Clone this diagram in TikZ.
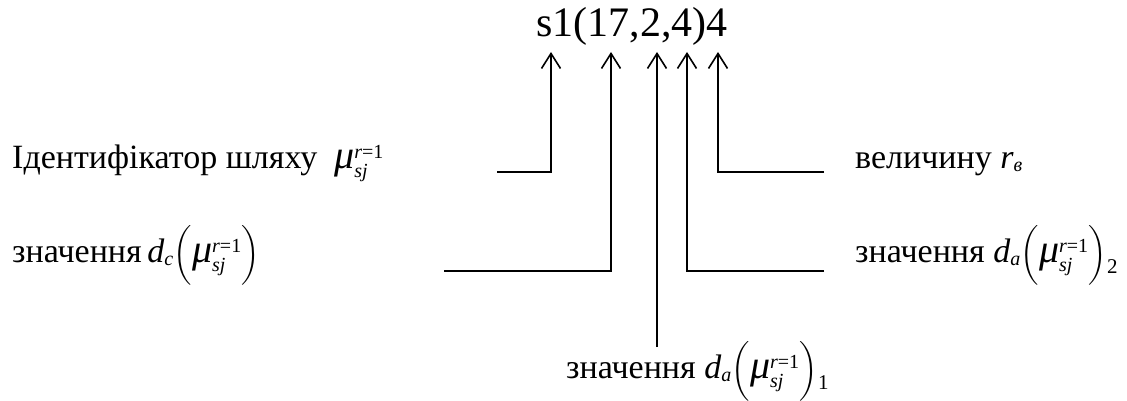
\documentclass[tikz,border=0pt]{standalone}
\usepackage{amsmath}
\usepackage{fontspec}
\setmainfont{Liberation Serif}
\usetikzlibrary{arrows.meta}
\newcommand{\scr}[1]{\text{\fontsize{20}{20}\selectfont #1}}
\newcommand{\bigmu}{\text{\fontsize{40}{40}\selectfont\itshape μ}}
\newcommand{\muf}{\bigmu^{\scr{\itshape r\upshape =1}}_{\scr{\itshape sj}}}
\newcommand{\pmu}{\!\left(\rule[-0.6em]{0pt}{1.45em}\muf\right)}
\newcommand{\trail}[1]{\raisebox{-0.35em}{\fontsize{21}{21}\selectfont #1}}
\begin{document}
\begin{tikzpicture}[x=1pt,y=-1pt,
  lbl/.style={inner sep=0pt,font=\rmfamily\fontsize{34}{36}\selectfont},
  ttl/.style={inner sep=0pt,font=\rmfamily\fontsize{42}{44}\selectfont},
  conn/.style={line width=1.6pt},
  arr/.style={conn,-{Straight Barb[length=15pt,width=19pt,line width=1.6pt]}}]
\useasboundingbox (0,0) rectangle (1127,401);
\node[ttl,anchor=base] (title) at (632,37) {s1(17,2,4)4};
\coordinate (t1) at (551,52);
\coordinate (t2) at (611,52);
\coordinate (t3) at (657,52);
\coordinate (t4) at (687,52);
\coordinate (t5) at (718,52);
\coordinate (h1) at (497,172);
\coordinate (h2) at (444,271);
\coordinate (h3) at (657,347);
\coordinate (h4) at (824,271);
\coordinate (h5) at (824,172);
\draw[arr] (h1) -| (t1);
\draw[arr] (h2) -| (t2);
\draw[arr] (h3) -- (t3);
\draw[arr] (h4) -| (t4);
\draw[arr] (h5) -| (t5);
\node[lbl,anchor=base west] (l1) at (12,168) {Ідентифікатор шляху\hspace{0.5em}$\muf$};
\node[lbl,anchor=base west] (l2) at (12,262) {значення\,$\textit{d}_{\scr{\itshape c}}\pmu$};
\node[lbl,anchor=base west] (l3) at (566,378) {значення $\textit{d}_{\scr{\itshape a}}\pmu$\trail{1}};
\node[lbl,anchor=base west] (l4) at (855,262) {значення $\textit{d}_{\scr{\itshape a}}\pmu$\trail{2}};
\node[lbl,anchor=base west] (l5) at (855,168) {величину $\textit{r}_{\scr{\itshape в}}$};
\end{tikzpicture}
\end{document}
